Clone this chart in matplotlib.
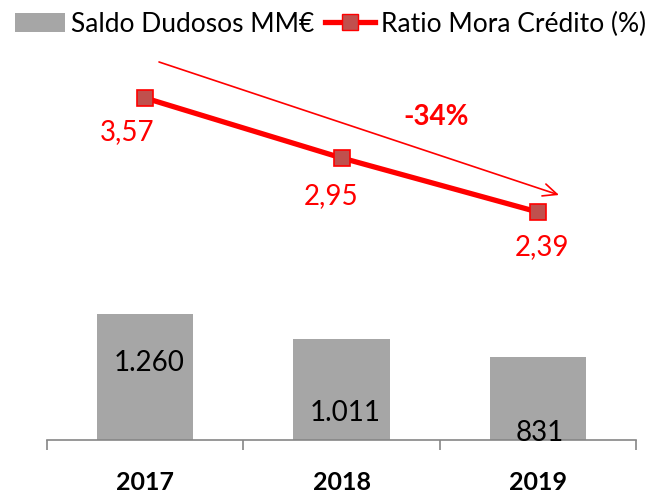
import numpy as np
import matplotlib
matplotlib.use('Agg')
import matplotlib.pyplot as plt
from matplotlib.lines import Line2D
from matplotlib.patches import Patch

# ============================================================
# Data
# ============================================================
years = ['2017', '2018', '2019']
saldo_dudosos = [1260, 1011, 831]          # MM€
ratio_mora = [3.57, 2.95, 2.39]            # %
bar_labels = ['1.260', '1.011', '831']
ratio_labels = ['3,57', '2,95', '2,39']
change_label = '-34%'

GRAY = '#A6A6A6'
RED = '#FF0000'
MARKER_FACE = '#C0504D'
AXIS_GRAY = '#868686'

plt.rcParams['font.family'] = ['Lato', 'DejaVu Sans']

W, H = 655, 498
fig = plt.figure(figsize=(W / 100, H / 100), dpi=100)

def px_rect(x0, y0, x1, y1):
    # pixel box (top-left origin) -> figure fraction rect
    return [x0 / W, 1 - y1 / H, (x1 - x0) / W, (y1 - y0) / H]

# ============================================================
# Bars (primary axis)
# ============================================================
ax = fig.add_axes(px_rect(47, 50, 636, 440))
x = np.arange(len(years))
ax.bar(x, saldo_dudosos, width=0.49, color=GRAY, zorder=2)
ax.set_xlim(-0.5, 2.5)
ax.set_ylim(0, 3900)
ax.set_yticks([])
for s in ['top', 'left', 'right']:
    ax.spines[s].set_visible(False)
ax.spines['bottom'].set_color(AXIS_GRAY)
ax.spines['bottom'].set_linewidth(1.2)

ax.set_xticks([-0.5, 0.5, 1.5, 2.5])
ax.set_xticklabels([])
ax.tick_params(axis='x', which='major', length=7.2, color=AXIS_GRAY, width=1.2)
ax.set_xticks(x, minor=True)
ax.set_xticklabels(years, minor=True, fontsize=18, fontweight='bold')
ax.tick_params(axis='x', which='minor', length=0, pad=22)

bar_offsets = [(4, -49), (4, -74), (2, -76)]
for xi, v, lab, (dx, dy) in zip(x, saldo_dudosos, bar_labels, bar_offsets):
    ax.annotate(lab, xy=(xi, v), xytext=(dx, dy), textcoords='offset pixels',
                ha='center', va='center', fontsize=20, color='black', zorder=4)

# ============================================================
# Ratio line (secondary axis)
# ============================================================
ax2 = ax.twinx()
ax2.set_ylim(0.03, 4.067)
ax2.axis('off')
ax2.plot(x, ratio_mora, color=RED, linewidth=3.8, marker='s', markersize=12,
         markerfacecolor=MARKER_FACE, markeredgecolor=RED, markeredgewidth=1.2,
         zorder=3)

ratio_offsets = [(-18, -34), (-10, -38), (4, -35)]
for xi, v, lab, (dx, dy) in zip(x, ratio_mora, ratio_labels, ratio_offsets):
    ax2.annotate(lab, xy=(xi, v), xytext=(dx, dy), textcoords='offset pixels',
                 ha='center', va='center', fontsize=20, color=RED)

# trend arrow and change label
ax2.annotate('', xy=(2.108, 2.566), xytext=(0.0705, 3.943),
             arrowprops=dict(arrowstyle='->,head_length=1.0,head_width=0.45',
                             color=RED, lw=1.2, shrinkA=0, shrinkB=0))
ax2.text(1.481, 3.374, change_label, color=RED, fontsize=20, fontweight='bold',
         ha='center', va='center')

# ============================================================
# Legend
# ============================================================
handles = [Patch(facecolor=GRAY, edgecolor='none'),
           Line2D([0], [0], color=RED, linewidth=3.8, marker='s', markersize=12,
                  markerfacecolor=MARKER_FACE, markeredgecolor=RED)]
fig.legend(handles, ['Saldo Dudosos MM€', 'Ratio Mora Crédito (%)'],
           loc='center', bbox_to_anchor=(330.5 / W, 1 - 24 / H), ncol=2,
           frameon=False, fontsize=19, handlelength=1.9, handletextpad=0.23,
           columnspacing=0.38, borderpad=0, borderaxespad=0)

fig.savefig('out.png', dpi=100)
